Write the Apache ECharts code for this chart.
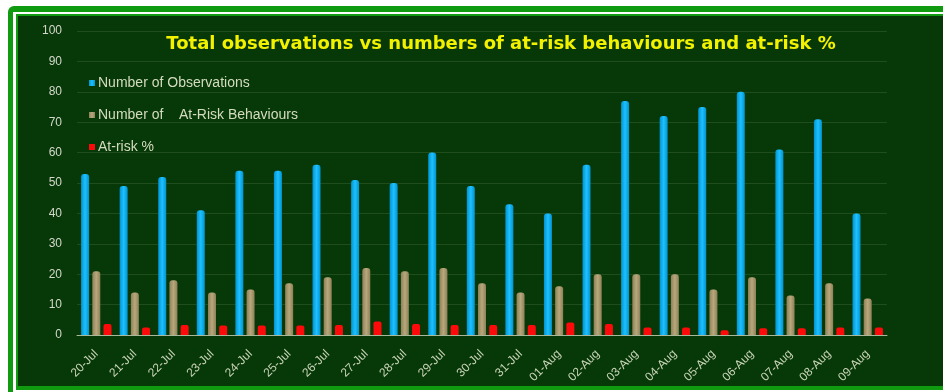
<!DOCTYPE html>
<html>
<head>
<meta charset="utf-8">
<script src="https://cdn.jsdelivr.net/npm/echarts@6/dist/echarts.min.js"></script>
<style>
  html, body { margin: 0; padding: 0; background: #ffffff; }
  #chart { width: 943px; height: 392px; }
</style>
</head>
<body>
<div id="chart"></div>
<script>
// dates on the x axis
const days = ['20-Jul', '21-Jul', '22-Jul', '23-Jul', '24-Jul', '25-Jul', '26-Jul', '27-Jul',
  '28-Jul', '29-Jul', '30-Jul', '31-Jul', '01-Aug', '02-Aug', '03-Aug', '04-Aug',
  '05-Aug', '06-Aug', '07-Aug', '08-Aug', '09-Aug'];

// values
const observations = [53, 49, 52, 41, 54, 54, 56, 51, 50, 60, 49, 43, 40, 56, 77, 72, 75, 80, 61, 71, 40];
const atRiskCount = [21, 14, 18, 14, 15, 17, 19, 22, 21, 22, 17, 14, 16, 20, 20, 20, 15, 19, 13, 17, 12];
const atRiskPct = [3.6, 2.5, 3.3, 3.1, 3.1, 3.1, 3.3, 4.4, 3.6, 3.3, 3.3, 3.3, 4.1, 3.6, 2.5, 2.5, 1.6, 2.2, 2.2, 2.5, 2.5];

const seriesNames = ['Number of Observations', 'Number of    At-Risk Behaviours', 'At-risk %'];
const yMin = 0, yMax = 100, yStep = 10;

const chart = echarts.init(document.getElementById('chart'));

// cylinder-ish look for the bars
const barGrad = (edge, mid) => new echarts.graphic.LinearGradient(0, 0, 1, 0, [
  { offset: 0, color: edge },
  { offset: 0.5, color: mid },
  { offset: 1, color: edge }
]);

chart.setOption({
  backgroundColor: '#ffffff',
  animation: false,
  graphic: [
    { type: 'rect', z: -10, shape: { x: 8, y: 6, width: 960, height: 400, r: 6 }, style: { fill: '#0f9a0f' } },
    { type: 'rect', z: -9, shape: { x: 13, y: 12, width: 950, height: 390 }, style: { fill: '#ffffff' } },
    { type: 'rect', z: -8, shape: { x: 16, y: 14, width: 950, height: 376 }, style: { fill: '#0f9a0f' } },
    { type: 'rect', z: -7, shape: { x: 18, y: 16, width: 950, height: 370 }, style: { fill: '#073807' } }
  ],
  title: {
    text: 'Total observations vs numbers of at-risk behaviours and at-risk %',
    left: 496,
    textAlign: 'center',
    top: 30,
    textStyle: {
      color: '#f2f200',
      fontSize: 18,
      fontWeight: 'bold',
      fontFamily: 'DejaVu Sans'
    }
  },
  legend: {
    orient: 'vertical',
    left: 84,
    top: 71,
    itemWidth: 6,
    itemHeight: 6,
    itemGap: 18,
    icon: 'rect',
    textStyle: { color: '#d4dcc0', fontSize: 14, fontFamily: 'Liberation Sans', padding: [0, 0, 0, -2] },
    data: seriesNames
  },
  grid: { left: 77, right: 56, top: 31, bottom: 57 },
  xAxis: {
    type: 'category',
    data: days,
    axisLine: { lineStyle: { color: '#a8b898', width: 1 } },
    axisTick: { interval: 0, length: 5, lineStyle: { color: '#a8b898' } },
    axisLabel: {
      interval: 0,
      rotate: 45,
      color: '#c8d4b8',
      fontSize: 12,
      fontFamily: 'Liberation Sans',
      margin: 17
    }
  },
  yAxis: {
    type: 'value',
    min: yMin,
    max: yMax,
    interval: yStep,
    axisLine: { show: false },
    axisTick: { show: false },
    axisLabel: { color: '#d4d8cc', fontSize: 12, fontFamily: 'Liberation Sans', margin: 15 },
    splitLine: { lineStyle: { color: 'rgba(70,110,60,0.4)', width: 1 } }
  },
  series: [
    {
      name: seriesNames[0],
      type: 'bar',
      data: observations,
      barWidth: 8,
      barGap: '40%',
      itemStyle: { color: barGrad('#0094d0', '#1ec0ff'), borderRadius: [3, 3, 0, 0] }
    },
    {
      name: seriesNames[1],
      type: 'bar',
      data: atRiskCount,
      barWidth: 8,
      barGap: '40%',
      itemStyle: { color: barGrad('#8f8058', '#b8a87c'), borderRadius: [3, 3, 0, 0] }
    },
    {
      name: seriesNames[2],
      type: 'bar',
      data: atRiskPct,
      barWidth: 8,
      barGap: '40%',
      itemStyle: { color: '#ff0a0a', borderRadius: [2, 2, 0, 0] }
    }
  ]
});
</script>
</body>
</html>
